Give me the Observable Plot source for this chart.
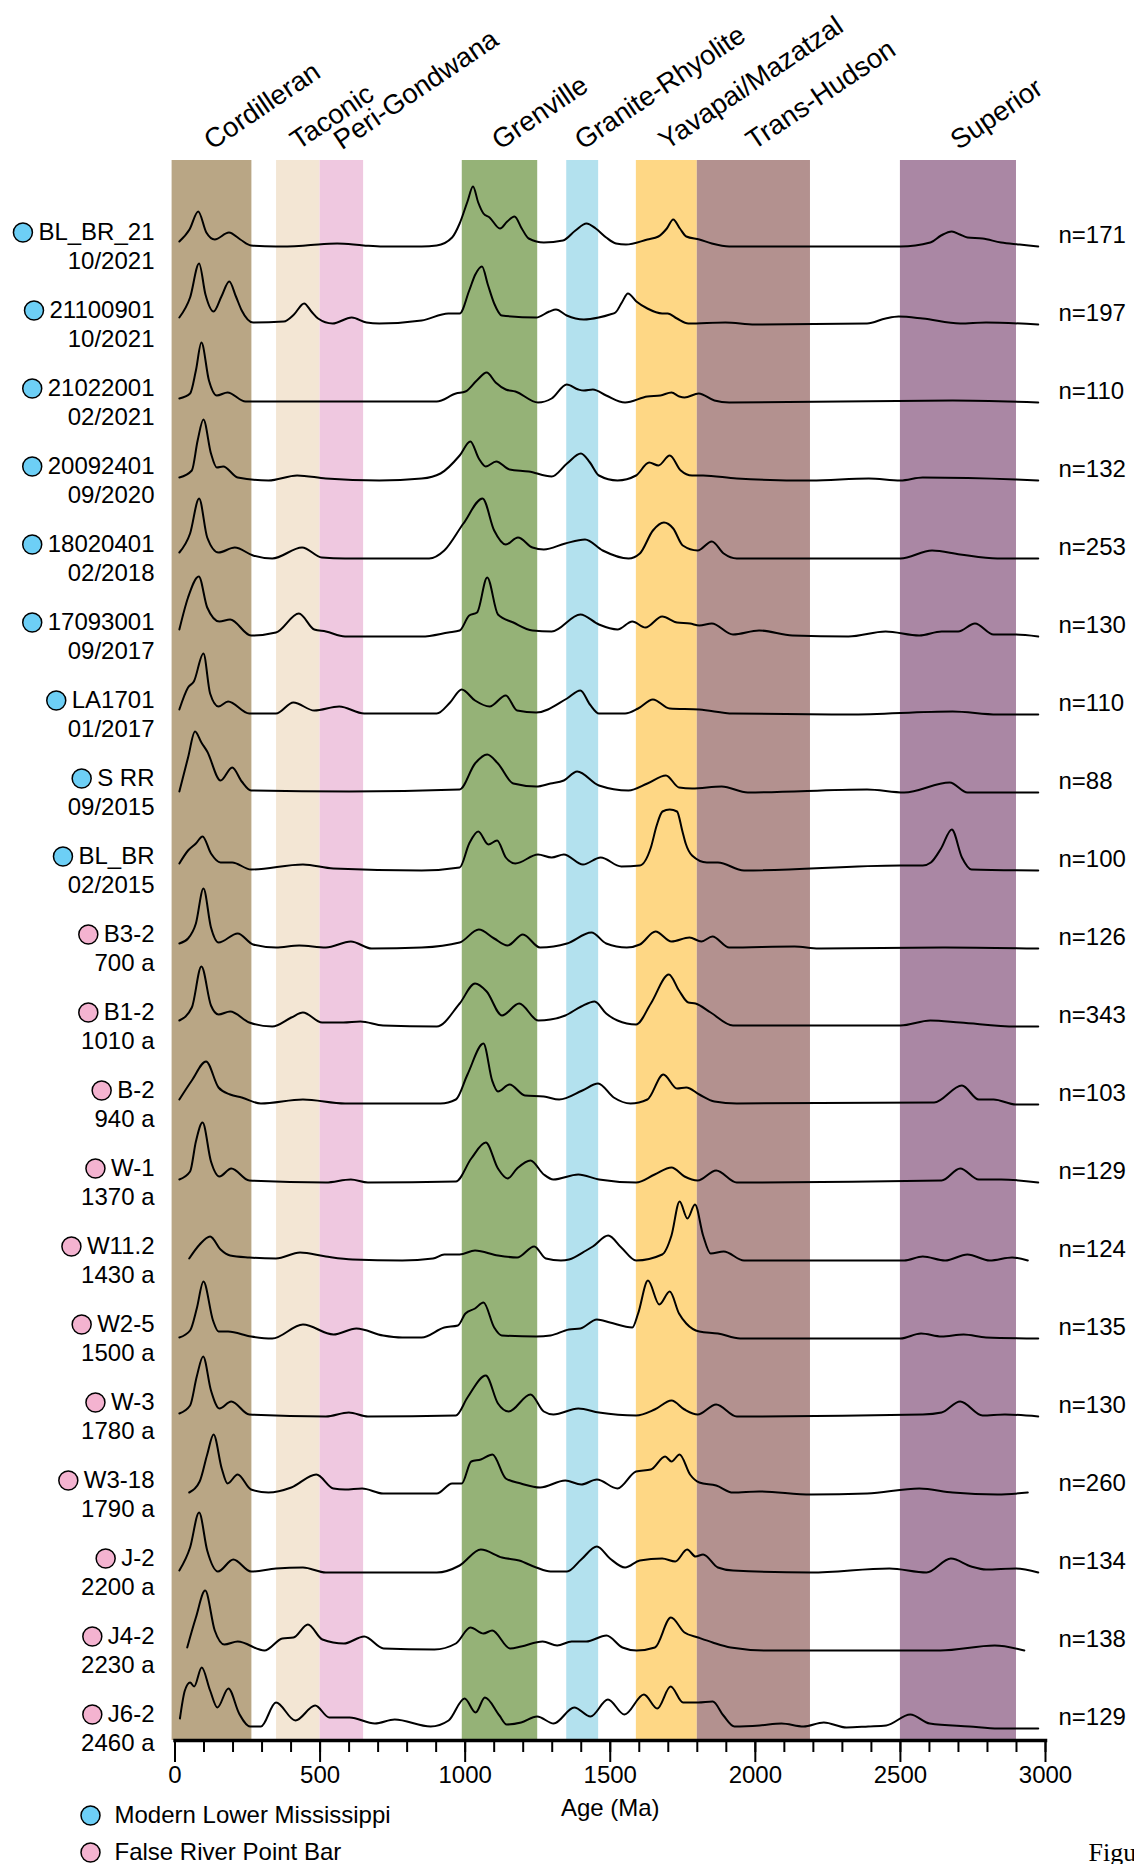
<!DOCTYPE html>
<html>
<head>
<meta charset="utf-8">
<script src="https://cdn.jsdelivr.net/npm/d3@7"></script>
<script src="https://cdn.jsdelivr.net/npm/@observablehq/plot@0.6"></script>
<style>
  html, body { margin: 0; padding: 0; background: #fff; }
  #chart svg { display: block; }
</style>
</head>
<body>
<div id="chart"></div>
<script>
// ---- Samples (top to bottom) ----
const samples = ["BL_BR_21", "21100901", "21022001", "20092401", "18020401", "17093001", "LA1701", "S RR", "BL_BR",
  "B3-2", "B1-2", "B-2", "W-1", "W11.2", "W2-5", "W-3", "W3-18", "J-2", "J4-2", "J6-2"];
const sampleDates = ["10/2021", "10/2021", "02/2021", "09/2020", "02/2018", "09/2017", "01/2017", "09/2015", "02/2015",
  "700 a", "1010 a", "940 a", "1370 a", "1430 a", "1500 a", "1780 a", "1790 a", "2200 a", "2230 a", "2460 a"];
const grainCounts = [171, 197, 110, 132, 253, 130, 110, 88, 100, 126, 343, 103, 129, 124, 135, 130, 260, 134, 138, 129];
const sampleGroups = [
  ...Array(9).fill("Modern Lower Mississippi"),
  ...Array(11).fill("False River Point Bar")
];
const groups = ["Modern Lower Mississippi", "False River Point Bar"];

// ---- Source provinces (age ranges, Ma) ----
const provinces = ["Cordilleran", "Taconic", "Peri-Gondwana", "Grenville", "Granite-Rhyolite", "Yavapai/Mazatzal", "Trans-Hudson", "Superior"];
const provinceStart = [-10, 350, 500, 990, 1350, 1590, 1800, 2500];
const provinceEnd = [265, 500, 650, 1250, 1460, 1800, 2190, 2900];

// ---- Detrital zircon age spectra: [age (Ma), relative probability] ----
const pdpBL_BR_21 = [[15,5],[50,17],[80,35],[108,14],[137,7],[186,14],[225,7],[262,1],[348,0],[450,1],[559,3],[650,1],[717,0],[850,0],[902,1],[955,9],[981,23],[1008,45],[1027,60],[1045,44],[1063,33],[1084,29],[1120,18],[1145,25],[1170,30],[1195,18],[1219,8],[1271,4],[1337,6],[1380,16],[1418,23],[1450,18],[1486,9],[1520,3],[1554,2],[1628,7],[1666,10],[1695,18],[1717,27],[1740,18],[1762,10],[1807,7],[1850,3],[1910,0],[2192,0],[2500,0],[2603,4],[2640,11],[2677,15],[2705,12],[2731,9],[2783,8],[2847,4],[2911,2],[2975,0]];
const pdp21100901 = [[15,7],[52,27],[83,61],[105,30],[133,13],[160,28],[187,43],[210,28],[230,14],[269,2],[375,3],[410,10],[445,21],[470,13],[493,6],[543,1],[609,7],[660,2],[704,1],[850,4],[942,11],[981,11],[1014,34],[1035,50],[1058,58],[1078,40],[1100,21],[1126,9],[1245,7],[1290,13],[1313,15],[1350,9],[1409,5],[1460,7],[1499,10],[1518,12],[1540,22],[1561,31],[1590,23],[1628,16],[1679,11],[1698,11],[1730,6],[1769,1],[1897,2],[1999,0],[2385,1],[2449,6],[2494,8],[2577,6],[2706,1],[2795,2],[2975,0]];
const pdp21022001 = [[15,4],[52,9],[72,32],[91,60],[117,22],[144,7],[181,10],[243,1],[500,1],[902,1],[968,9],[1001,11],[1040,22],[1074,30],[1105,20],[1140,13],[1173,11],[1251,0],[1298,4],[1350,18],[1390,13],[1409,12],[1440,13],[1486,7],[1551,0],[1628,6],[1673,7],[1711,10],[1738,6],[1756,5],[1805,9],[1859,2],[1910,0],[2680,2],[2975,0]];
const pdp20092401 = [[15,3],[58,10],[78,40],[98,61],[124,27],[144,13],[166,14],[216,3],[322,0],[421,5],[520,2],[704,0],[850,2],[915,7],[981,25],[1018,39],[1047,22],[1071,14],[1107,19],[1153,11],[1219,9],[1298,4],[1351,17],[1399,27],[1430,18],[1461,5],[1525,0],[1589,5],[1634,18],[1666,15],[1705,25],[1743,10],[1782,5],[1820,5],[1936,2],[2192,0],[2391,2],[2500,0],[2577,3],[2898,1],[2975,0]];
const pdp18020401 = [[15,6],[52,25],[83,60],[111,21],[150,6],[206,11],[269,3],[335,0],[438,11],[506,1],[586,0],[876,0],[928,8],[994,35],[1060,60],[1100,28],[1140,14],[1182,21],[1232,11],[1271,9],[1345,15],[1413,19],[1474,8],[1563,0],[1602,5],[1647,28],[1685,36],[1717,30],[1750,13],[1801,8],[1850,17],[1891,5],[1936,0],[2500,0],[2609,8],[2706,4],[2834,0],[2975,0]];
const pdp17093001 = [[15,7],[45,39],[82,60],[111,29],[153,15],[190,17],[262,1],[348,4],[427,23],[480,7],[520,5],[586,0],[850,0],[942,4],[981,6],[1014,21],[1041,24],[1076,59],[1113,22],[1166,14],[1232,6],[1298,5],[1397,22],[1461,12],[1525,7],[1576,15],[1621,9],[1679,20],[1730,14],[1775,13],[1807,11],[1850,13],[1923,2],[2013,6],[2128,1],[2321,0],[2449,5],[2565,1],[2642,5],[2699,5],[2757,13],[2821,2],[2898,2],[2975,0]];
const pdpLA1701 = [[15,5],[45,27],[65,33],[98,61],[121,21],[150,8],[183,13],[256,1],[348,1],[408,12],[480,4],[566,8],[652,1],[902,1],[948,12],[988,25],[1034,14],[1084,8],[1140,19],[1179,4],[1245,2],[1351,16],[1397,24],[1430,10],[1461,1],[1551,1],[1596,6],[1647,15],[1705,6],[1807,5],[1923,1],[2321,0],[2680,3],[2834,0],[2975,0]];
const pdpS_RR = [[15,1],[45,35],[69,61],[91,50],[111,41],[157,12],[197,25],[230,11],[262,2],[600,1],[981,3],[1034,29],[1076,38],[1113,29],[1166,9],[1245,6],[1294,9],[1340,12],[1386,21],[1461,7],[1563,2],[1628,9],[1692,17],[1737,5],[1782,4],[1884,6],[1974,0],[2385,3],[2513,0],[2670,10],[2731,0],[2975,0]];
const pdpBL_BR = [[15,7],[45,20],[72,27],[95,34],[124,17],[157,8],[197,8],[262,1],[441,6],[546,2],[850,0],[981,3],[1014,27],[1045,39],[1080,26],[1110,30],[1140,13],[1173,7],[1251,16],[1298,13],[1340,16],[1406,6],[1467,13],[1538,4],[1602,5],[1640,23],[1660,45],[1680,59],[1705,61],[1730,59],[1748,40],[1760,27],[1782,15],[1833,8],[1871,8],[1961,0],[2500,5],[2577,5],[2605,8],[2640,22],[2677,41],[2712,13],[2745,1],[2975,0]];
const pdpB3_2 = [[15,5],[45,10],[72,25],[98,60],[124,21],[150,6],[216,15],[269,4],[348,1],[428,3],[520,1],[606,7],[678,0],[850,1],[981,6],[1047,19],[1100,10],[1146,3],[1199,14],[1258,1],[1351,5],[1435,16],[1486,5],[1557,1],[1602,4],[1656,17],[1711,7],[1773,11],[1814,7],[1852,12],[1910,1],[2135,2],[2218,0],[2654,1],[2975,0]];
const pdpB1_2 = [[15,6],[58,19],[91,60],[124,21],[150,12],[190,15],[256,4],[335,0],[401,9],[441,14],[507,4],[580,4],[639,5],[717,1],[902,0],[981,23],[1034,43],[1074,35],[1127,11],[1186,23],[1252,6],[1294,7],[1345,11],[1400,20],[1446,25],[1486,13],[1525,6],[1589,2],[1640,23],[1702,52],[1737,36],[1769,24],[1794,23],[1846,14],[1923,1],[2500,1],[2603,6],[2706,4],[2898,0],[2975,0]];
const pdpB_2 = [[15,5],[58,24],[107,43],[150,17],[190,10],[230,7],[296,1],[441,5],[586,1],[915,1],[968,5],[1008,30],[1063,61],[1093,24],[1113,13],[1153,20],[1206,9],[1271,8],[1324,5],[1404,14],[1458,21],[1512,7],[1570,1],[1628,5],[1683,30],[1730,16],[1762,17],[1807,10],[1859,3],[1936,1],[2616,2],[2712,19],[2770,5],[2821,5],[2898,0],[2975,0]];
const pdpW_1 = [[15,3],[52,11],[72,41],[95,60],[124,21],[153,6],[194,14],[256,2],[520,0],[606,3],[665,0],[968,1],[1021,24],[1071,40],[1113,14],[1146,4],[1179,14],[1225,22],[1271,8],[1304,3],[1390,8],[1461,3],[1589,0],[1653,8],[1711,15],[1756,6],[1801,2],[1865,12],[1936,0],[2642,2],[2706,14],[2770,3],[2847,3],[2975,0]];
const pdpW11_2 = [[49,2],[85,16],[121,24],[157,11],[190,5],[256,3],[348,2],[431,8],[520,4],[612,1],[783,0],[889,2],[928,6],[981,6],[1034,10],[1113,5],[1179,3],[1238,14],[1278,2],[1330,0],[1358,1],[1417,10],[1440,14],[1493,25],[1538,13],[1589,0],[1679,6],[1711,25],[1739,59],[1766,42],[1792,56],[1820,25],[1846,7],[1891,9],[1961,0],[2321,0],[2513,0],[2577,4],[2654,0],[2731,6],[2808,0],[2885,3],[2939,0]];
const pdpW2_5 = [[15,1],[52,8],[75,30],[98,57],[131,18],[150,7],[183,7],[262,2],[335,0],[441,14],[546,4],[625,10],[717,3],[783,1],[850,1],[928,11],[975,13],[1001,25],[1034,30],[1063,36],[1100,11],[1126,3],[1245,2],[1294,3],[1358,9],[1397,10],[1454,19],[1499,16],[1576,11],[1596,25],[1630,58],[1669,34],[1705,47],[1737,25],[1762,15],[1807,7],[1871,5],[1948,0],[2500,0],[2571,5],[2642,2],[2718,4],[2795,1],[2975,0]];
const pdpW_3 = [[15,3],[52,11],[75,40],[97,60],[124,26],[153,8],[194,15],[256,2],[520,0],[599,4],[665,0],[968,1],[1008,19],[1071,41],[1113,13],[1150,5],[1225,22],[1271,5],[1304,2],[1390,8],[1461,4],[1589,1],[1653,7],[1711,16],[1756,7],[1801,2],[1865,12],[1936,0],[2577,2],[2642,4],[2706,15],[2783,1],[2860,2],[2975,0]];
const pdpW3_18 = [[49,2],[85,13],[111,40],[133,60],[161,26],[181,11],[216,20],[262,5],[322,2],[401,7],[487,20],[546,6],[586,5],[645,6],[717,1],[902,1],[955,11],[988,11],[1021,33],[1054,35],[1094,40],[1140,16],[1192,11],[1258,7],[1345,14],[1400,10],[1454,15],[1525,6],[1589,23],[1640,25],[1689,38],[1711,33],[1739,40],[1775,20],[1807,12],[1865,9],[1923,2],[2013,3],[2192,0],[2385,1],[2565,6],[2680,2],[2834,0],[2939,2]];
const pdpJ_2 = [[15,2],[52,25],[83,60],[111,22],[148,1],[201,13],[262,1],[348,4],[441,5],[520,0],[902,0],[981,7],[1054,23],[1127,15],[1186,12],[1245,5],[1294,1],[1351,1],[1400,13],[1454,26],[1499,14],[1551,5],[1602,12],[1679,14],[1724,11],[1765,23],[1794,16],[1820,18],[1871,5],[1923,2],[2192,0],[2462,4],[2590,0],[2674,14],[2744,6],[2795,3],[2898,4],[2975,0]];
const pdpJ4_2 = [[42,3],[72,33],[104,60],[137,20],[170,6],[216,9],[308,0],[370,12],[408,13],[458,26],[508,11],[582,7],[652,14],[719,2],[894,1],[968,7],[1018,23],[1063,17],[1093,20],[1155,2],[1193,4],[1267,9],[1317,5],[1367,9],[1417,9],[1487,15],[1542,3],[1591,0],[1654,3],[1709,33],[1756,18],[1803,13],[1853,8],[1915,3],[2040,0],[2638,0],[2825,5],[2927,0]];
const pdpJ6_2 = [[17,10],[34,38],[52,46],[66,42],[92,61],[121,38],[146,21],[184,40],[221,15],[259,2],[296,2],[348,26],[415,8],[483,23],[532,11],[602,11],[689,5],[757,9],[881,2],[943,8],[998,30],[1036,16],[1068,31],[1118,13],[1143,4],[1193,6],[1248,12],[1305,5],[1376,21],[1432,12],[1492,29],[1549,14],[1616,34],[1662,20],[1708,42],[1751,26],[1803,26],[1853,27],[1890,13],[1928,2],[2015,3],[2090,5],[2166,2],[2236,6],[2314,1],[2389,2],[2451,3],[2534,14],[2601,5],[2738,2],[2838,0],[2975,0]];

const spectra = [pdpBL_BR_21, pdp21100901, pdp21022001, pdp20092401, pdp18020401, pdp17093001, pdpLA1701, pdpS_RR, pdpBL_BR,
  pdpB3_2, pdpB1_2, pdpB_2, pdpW_1, pdpW11_2, pdpW2_5, pdpW_3, pdpW3_18, pdpJ_2, pdpJ4_2, pdpJ6_2];

// ---- Styling ----
const FONT = "'Liberation Sans', Arial, Helvetica, sans-serif";
const provinceColors = ["#b9a685", "#f3e6d4", "#efc8e0", "#95b277", "#b3e1ee", "#fed785", "#b3918f", "#aa87a4"];
const groupColors = ["#6dcff6", "#f4b3d0"];

// ---- Layout of the stacked spectra ----
const ROW = 78;                     // probability units between neighbouring baselines
const nRows = samples.length;
const rowBase = i => (nRows - 1 - i) * ROW;

const rows = samples.map((name, i) => ({
  name, date: sampleDates[i], n: grainCounts[i], group: sampleGroups[i], base: rowBase(i)
}));
const provinceRows = provinces.map((name, i) => ({name, start: provinceStart[i], end: provinceEnd[i]}));
const curvePoints = spectra.flatMap((pts, i) =>
  pts.map(([age, p]) => ({sample: samples[i], age, y: rowBase(i) + p})));

const xDomain = [0, 3000];
const marginLeft = 174.5, marginRight = 89, width = 1134;
const xScale = Plot.scale({x: {domain: xDomain, range: [marginLeft, width - marginRight]}});

// text widths for placing the sample markers left of each label
const ctx = document.createElement("canvas").getContext("2d");
ctx.font = `24px ${FONT}`;
const labelRight = marginLeft - 20.5;
const markerX = d => xScale.invert(labelRight - ctx.measureText(d.name).width - 15.5);

const chart = Plot.plot({
  width,
  height: 1864,
  marginLeft,
  marginRight,
  marginTop: 160,
  marginBottom: 124,
  style: {fontFamily: FONT, fontSize: "24px", background: "#fff", color: "#000"},
  x: {domain: xDomain, axis: null},
  y: {domain: [-12, rowBase(0) + 86], axis: null},
  color: {type: "ordinal", domain: [...provinces, ...groups], range: [...provinceColors, ...groupColors]},
  marks: [
    // province age bands
    Plot.rect(provinceRows, {x1: "start", x2: "end", fill: "name"}),
    Plot.text(provinceRows, {
      x: d => (d.start + d.end) / 2, frameAnchor: "top", text: "name",
      rotate: -34, textAnchor: "start", lineAnchor: "bottom", dx: 0, dy: -10, fontSize: 27.5
    }),
    // age spectra
    Plot.line(curvePoints, {
      x: "age", y: "y", z: "sample", curve: "monotone-x",
      stroke: "#000", strokeWidth: 2, strokeLinejoin: "round"
    }),
    // age axis
    Plot.frame({anchor: "bottom", strokeWidth: 3.5}),
    Plot.axisX({ticks: d3.range(0, 3001, 100), tickSize: 12, tickFormat: () => "", strokeWidth: 2, label: null}),
    Plot.axisX({ticks: d3.range(0, 3001, 500), tickSize: 22, tickPadding: 3, tickFormat: d => String(d),
      strokeWidth: 2, fontSize: 24, label: null}),
    Plot.text(["Age (Ma)"], {frameAnchor: "bottom", lineAnchor: "middle", dy: 68, fontSize: 24}),
    // sample labels
    Plot.dot(rows, {x: markerX, y: "base", dy: -14, r: 9.5, fill: "group", stroke: "#000", strokeWidth: 1.5}),
    Plot.text(rows, {y: "base", frameAnchor: "left", lineAnchor: "middle", dx: -20.5, dy: -14, text: "name", textAnchor: "end", fontSize: 24}),
    Plot.text(rows, {y: "base", frameAnchor: "left", lineAnchor: "middle", dx: -20.5, dy: 14.5, text: "date", textAnchor: "end", fontSize: 24}),
    Plot.text(rows, {y: "base", frameAnchor: "right", lineAnchor: "middle", dx: 13, dy: -11, text: d => `n=${d.n}`, textAnchor: "start", fontSize: 24}),
    // legend
    ...groups.flatMap((g, i) => [
      Plot.dot([g], {frameAnchor: "bottom-left", dx: -84.5, dy: 75 + 37 * i, r: 9.5, fill: d => d, stroke: "#000", strokeWidth: 1.5}),
      Plot.text([g], {frameAnchor: "bottom-left", lineAnchor: "middle", dx: -60.5, dy: 75 + 37 * i, text: d => d, textAnchor: "start", fontSize: 24})
    ]),
    // figure caption (runs off the page edge)
    Plot.text(["Figure"], {frameAnchor: "bottom-right", lineAnchor: "middle", dx: 43, dy: 112, textAnchor: "start",
      fontFamily: "'Liberation Serif', 'Times New Roman', serif", fontSize: 26})
  ]
});

document.getElementById("chart").append(chart);
</script>
</body>
</html>
